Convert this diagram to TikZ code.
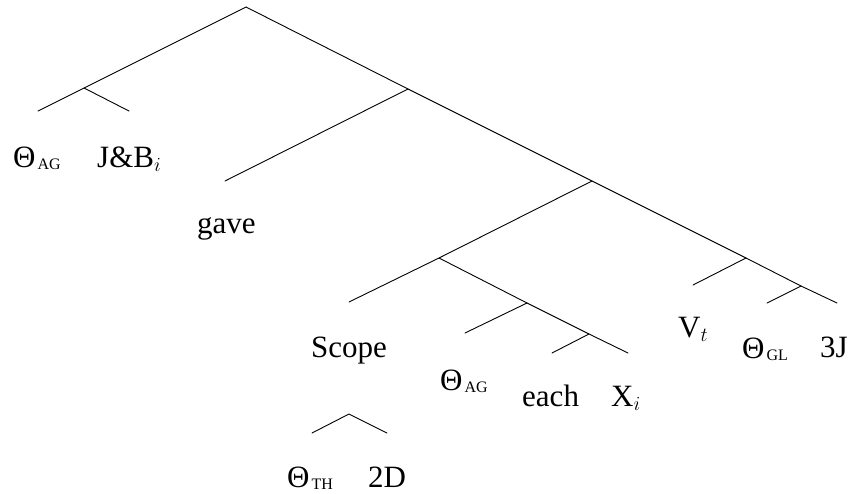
\RequirePackage{fix-cm}
\documentclass[tikz,border=0pt]{standalone}
\usepackage{fontspec}
\setmainfont{Liberation Serif}
\newcommand{\Thsub}[1]{Θ\kern2pt\raisebox{-2pt}{\fontsize{16}{16}\selectfont #1}}
\newcommand{\msub}[1]{\raisebox{-4pt}{\fontsize{20}{20}\selectfont$#1$}}
\begin{document}
\begin{tikzpicture}[x=1pt,y=-1pt,
  edge/.style={line width=0.9pt, line cap=round},
  lbl/.style={anchor=base west, inner sep=0pt, font=\fontsize{31}{37}\selectfont}]
\useasboundingbox (0,0) rectangle (856,493);
% junctions
\coordinate (root) at (246,7);
\coordinate (n1) at (84,88);
\coordinate (n2) at (408,89);
\coordinate (n3) at (592,181);
\coordinate (n4) at (439,258);
\coordinate (n5) at (527,303);
\coordinate (n6) at (589,334);
\coordinate (n7) at (746,258);
\coordinate (n8) at (801,286);
\coordinate (tp) at (349,414);
% leaf ends
\coordinate (e1) at (38,111);
\coordinate (e2) at (129,111);
\coordinate (e3) at (225,181);
\coordinate (e4) at (349,302);
\coordinate (e5) at (465,333);
\coordinate (e6) at (552,353);
\coordinate (e7) at (628,353);
\coordinate (e8) at (693,285);
\coordinate (e9) at (767,303);
\coordinate (e10) at (837,303);
\coordinate (t1) at (312,433);
\coordinate (t2) at (387,433);
% edges
\draw[edge] (e1) -- (n1) -- (root) -- (n2) -- (n3) -- (n7) -- (n8) -- (e10);
\draw[edge] (n1) -- (e2);
\draw[edge] (n2) -- (e3);
\draw[edge] (n3) -- (n4) -- (e4);
\draw[edge] (n4) -- (n5) -- (n6) -- (e7);
\draw[edge] (n5) -- (e5);
\draw[edge] (n6) -- (e6);
\draw[edge] (n7) -- (e8);
\draw[edge] (n8) -- (e9);
\draw[edge] (t1) -- (tp) -- (t2);
% labels
\node[lbl] (agA) at (13,167) {\Thsub{AG}};
\node[lbl] (jb) at (97,167) {J\&B\msub{i}};
\node[lbl] (gave) at (197,233) {gave};
\node[lbl] (scope) at (311,357) {Scope};
\node[lbl] (agB) at (440,390) {\Thsub{AG}};
\node[lbl] (each) at (522,406) {each};
\node[lbl] (xi) at (611,406) {X\msub{i}};
\node[lbl] (vt) at (678,337) {V\msub{t}};
\node[lbl] (gl) at (742,358) {\Thsub{GL}};
\node[lbl] (tj) at (820,357) {3J};
\node[lbl, text depth=0pt] (th) at (287,487) {\Thsub{TH}};
\node[lbl, text depth=0pt] (td) at (368,487) {2D};
\end{tikzpicture}
\end{document}
